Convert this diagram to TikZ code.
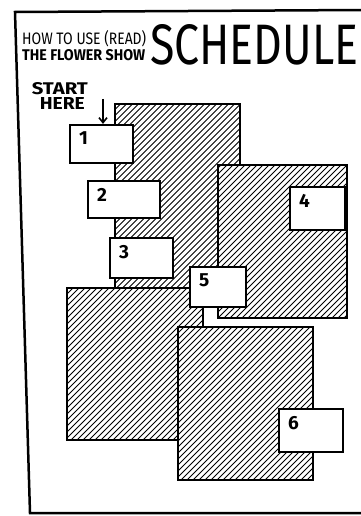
\documentclass[tikz,border=0pt]{standalone}
\usepackage{fontspec}
\setmainfont{Fira Sans}
\usepackage{tikz}
\usetikzlibrary{positioning,arrows.meta}

\tikzset{
  panel/.style={draw, line width=2.2pt, fill=white, inner sep=0pt,
    path picture={
      \foreach \k in {-240,-234,...,240}
        \draw[line width=0.9pt, shift={(path picture bounding box.center)}]
          (\k-130,130) -- (\k+130,-130);
    }},
  step box/.style={draw, line width=2.2pt, fill=white, inner sep=0pt,
    label={[font=\bfseries\fontsize{19}{19}\selectfont, anchor=north west,
            inner sep=0pt, xshift=10pt, yshift=-8pt]north west:#1}}
}

\begin{document}
\begin{tikzpicture}[x=1pt, y=-1pt]
  \useasboundingbox[fill=white] (0,0) rectangle (360,516);

  % frame of the page
  \draw[line width=2.5pt] (362,10) -- (15,12) -- (30,513) -- (362,513);

  % title
  \node[anchor=north west, inner sep=0pt] (howto) at (22,30)
    {\resizebox{124pt}{14pt}{HOW TO USE (READ)}};
  \node[anchor=north west, inner sep=0pt] (flower) at (22,49)
    {\resizebox{123pt}{11pt}{\bfseries THE FLOWER SHOW}};
  \node[anchor=west, inner sep=0pt] (sched) at (150,45)
    {\resizebox{208pt}{40pt}{SCHEDULE}};

  \node[anchor=north east, inner sep=0pt] (start) at (88,82)
    {\resizebox{56pt}{12pt}{\bfseries START}};
  \node[anchor=north east, inner sep=0pt] (here)
    at ([xshift=-3pt, yshift=-3pt]start.south east)
    {\resizebox{45pt}{12pt}{\bfseries HERE}};

  % hatched panels, back to front
  \node[panel, minimum width=125pt, minimum height=186pt] (pa) at (177.5,197) {};
  \node[panel, minimum width=129pt, minimum height=153pt] (pb) at (282.5,241.5) {};
  \node[panel, minimum width=136pt, minimum height=152pt] (pc) at (135,364) {};
  \node[panel, minimum width=135pt, minimum height=153pt] (pd) at (245.5,403.5) {};

  % numbered boxes
  \node[step box=1, minimum width=63pt, minimum height=38pt] (b1) at (101.5,144) {};
  \node[step box=2, minimum width=72pt, minimum height=37pt] (b2) at (124,199.5) {};
  \node[step box=3, minimum width=63pt, minimum height=40pt] (b3) at (141.5,258) {};
  \node[step box=4, minimum width=55pt, minimum height=43pt] (b4) at (317.5,208.5) {};
  \node[step box=5, minimum width=56pt, minimum height=40pt] (b5) at (218,287) {};
  \node[step box=6, minimum width=64pt, minimum height=43pt] (b6) at (311,430.5) {};

  \coordinate (arrtop) at (103,99);
  \draw[line width=1.6pt, -{Straight Barb[length=5pt,width=8pt]}]
    (arrtop) -- (arrtop |- b1.north);
\end{tikzpicture}
\end{document}
